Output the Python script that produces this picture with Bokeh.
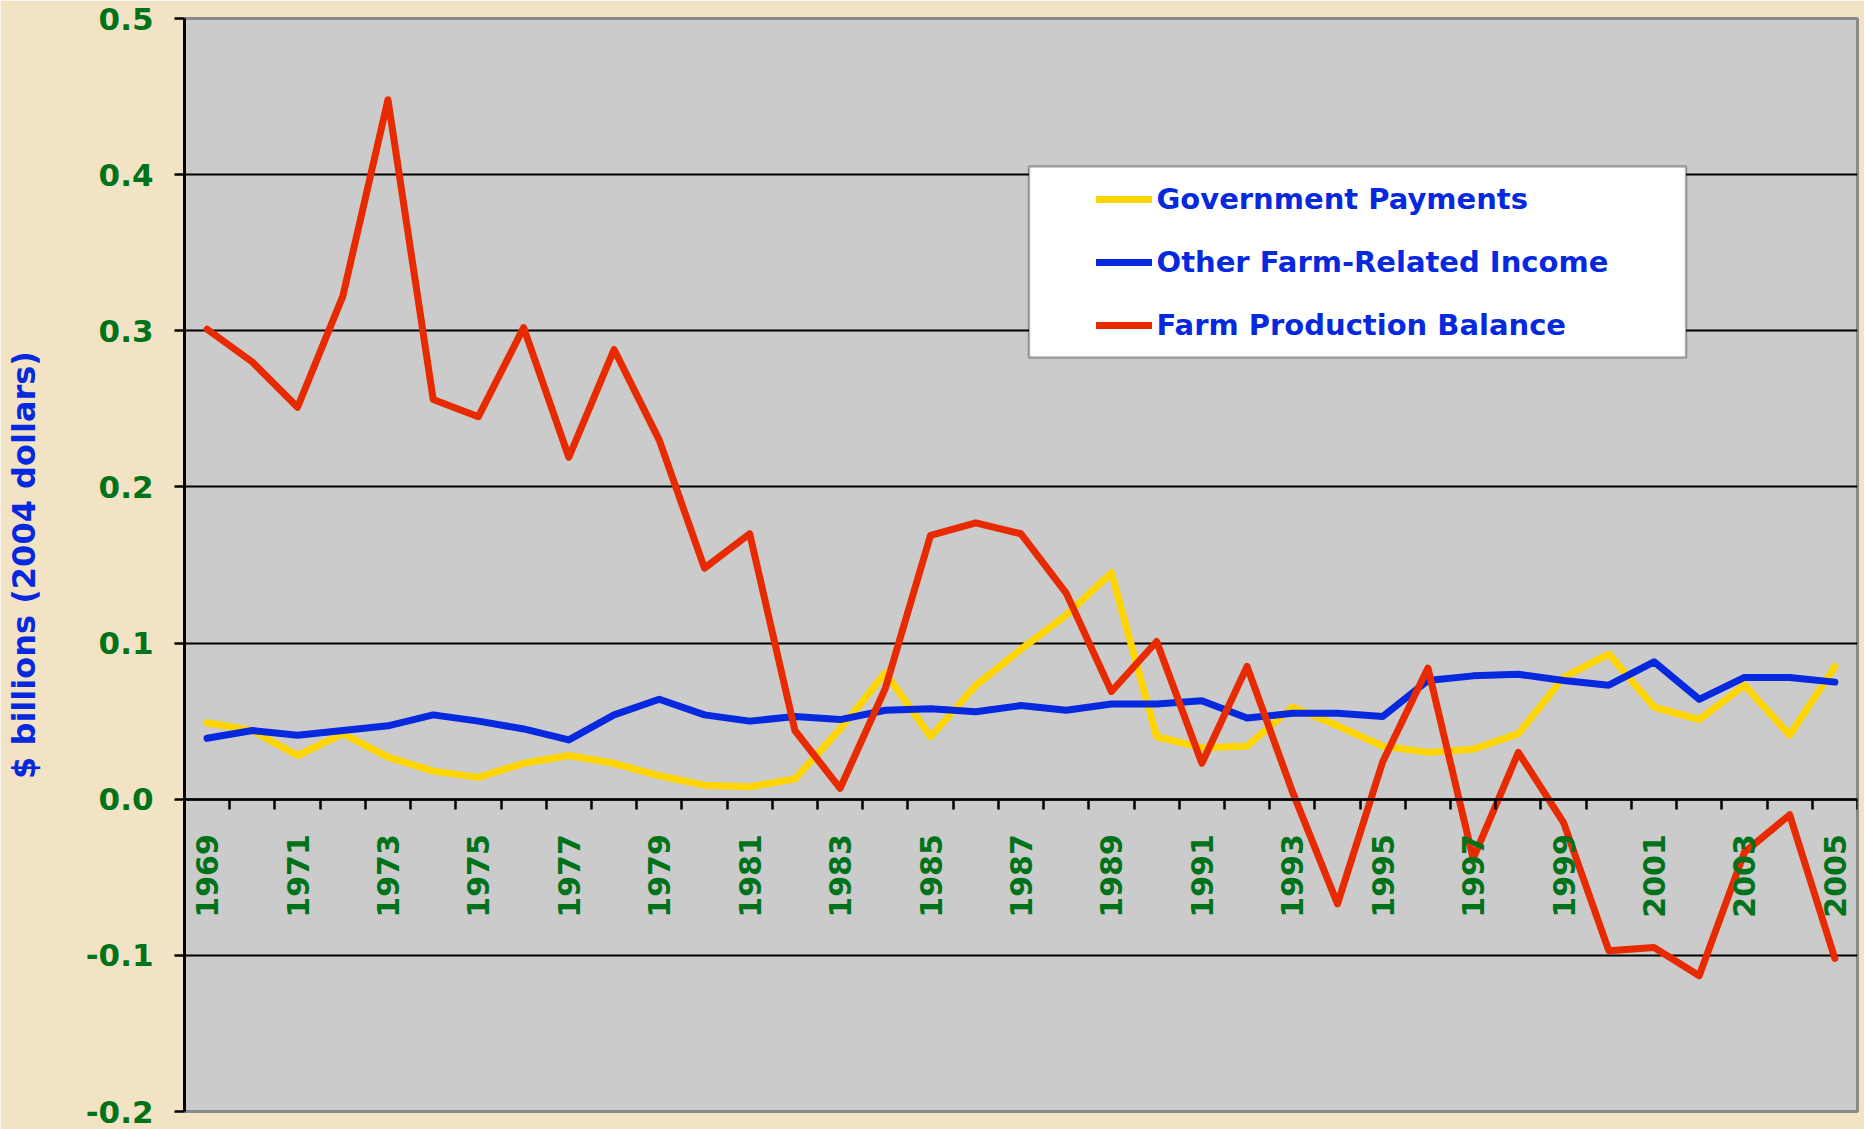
import math
from bokeh.plotting import figure
from bokeh.models import (Range1d, FixedTicker, PrintfTickFormatter, Legend,
                          LegendItem, BoxAnnotation)
from bokeh.embed import file_html
from bokeh.resources import INLINE

# ---------------- data ----------------
years = list(range(1969, 2006))
year_labels = [y for y in years if y % 2 == 1]
gov_payments = [0.049, 0.044, 0.028, 0.042, 0.027, 0.018, 0.014, 0.023, 0.028, 0.023,
                0.015, 0.009, 0.008, 0.013, 0.045, 0.081, 0.040, 0.073, 0.096, 0.118,
                0.145, 0.040, 0.033, 0.034, 0.059, 0.047, 0.034, 0.030, 0.032, 0.042,
                0.078, 0.093, 0.059, 0.051, 0.073, 0.041, 0.085]
other_income = [0.039, 0.044, 0.041, 0.044, 0.047, 0.054, 0.050, 0.045, 0.038, 0.054,
                0.064, 0.054, 0.050, 0.053, 0.051, 0.057, 0.058, 0.056, 0.060, 0.057,
                0.061, 0.061, 0.063, 0.052, 0.055, 0.055, 0.053, 0.076, 0.079, 0.080,
                0.076, 0.073, 0.088, 0.064, 0.078, 0.078, 0.075]
farm_balance = [0.301, 0.280, 0.251, 0.322, 0.448, 0.256, 0.245, 0.302, 0.219, 0.288,
                0.230, 0.148, 0.170, 0.044, 0.007, 0.071, 0.169, 0.177, 0.170, 0.132,
                0.069, 0.101, 0.023, 0.085, 0.005, -0.067, 0.024, 0.084, -0.038, 0.030,
                -0.015, -0.097, -0.095, -0.113, -0.034, -0.010, -0.102]
y_ticks = [-0.2, -0.1, 0.0, 0.1, 0.2, 0.3, 0.4, 0.5]
series_names = ["Government Payments", "Other Farm-Related Income", "Farm Production Balance"]
y_title = "$ billions (2004 dollars)"

# ---------------- style ----------------
FONT = "DejaVu Sans"
GREEN = "#00731A"
TEXT_BLUE = "#0628DE"
COLORS = ["#FFD500", "#0628DE", "#E82A00"]

p = figure(width=1864, height=1129,
           x_range=Range1d(years[0] - 0.5, years[-1] + 0.5),
           y_range=Range1d(y_ticks[0], y_ticks[-1]),
           output_backend="svg", toolbar_location=None,
           min_border_left=184, min_border_right=7,
           min_border_top=18, min_border_bottom=18)
p.background_fill_color = "#CBCBCB"
p.border_fill_color = "#F2E3C4"
p.outline_line_color = "#8A8A8A"
p.outline_line_width = 3

p.xgrid.visible = False
p.ygrid.ticker = FixedTicker(ticks=y_ticks[1:-1])
p.ygrid.grid_line_color = "black"
p.ygrid.grid_line_width = 2

# y axis
ya = p.yaxis[0]
ya.ticker = FixedTicker(ticks=y_ticks)
ya.formatter = PrintfTickFormatter(format="%.1f")
ya.major_label_text_font = FONT
ya.major_label_text_font_style = "bold"
ya.major_label_text_font_size = "31px"
ya.major_label_text_color = GREEN
ya.major_label_standoff = 21
ya.major_tick_out = 10
ya.major_tick_in = 0
ya.minor_tick_out = 0
ya.minor_tick_in = 0
ya.major_tick_line_width = 2.5
ya.major_tick_line_color = "black"
ya.axis_line_width = 3
ya.axis_line_color = "black"
ya.axis_label = y_title
ya.axis_label_text_font = FONT
ya.axis_label_text_font_style = "bold"
ya.axis_label_text_font_size = "32px"
ya.axis_label_text_color = TEXT_BLUE
ya.axis_label_standoff = 40

# x axis at y = 0
xa = p.xaxis[0]
xa.fixed_location = 0
xa.ticker = FixedTicker(ticks=year_labels,
                        minor_ticks=[years[0] - 0.5] + [y + 0.5 for y in years])
xa.formatter = PrintfTickFormatter(format="%d")
xa.major_label_orientation = math.pi / 2
xa.major_label_text_font = FONT
xa.major_label_text_font_style = "bold"
xa.major_label_text_font_size = "30px"
xa.major_label_text_color = GREEN
xa.major_label_standoff = 25
xa.major_tick_out = 0
xa.major_tick_in = 0
xa.minor_tick_out = 10
xa.minor_tick_in = 0
xa.minor_tick_line_width = 2.5
xa.minor_tick_line_color = "black"
xa.axis_line_width = 2.5
xa.axis_line_color = "black"

# lines
renderers = []
for vals, col in zip([gov_payments, other_income, farm_balance], COLORS):
    r = p.line(years, vals, line_color=col, line_width=7,
               line_join="round", line_cap="round")
    renderers.append(r)

# legend box
box = BoxAnnotation(left=844.5, right=1501.5, bottom=754, top=945,
                    left_units="screen", right_units="screen",
                    bottom_units="screen", top_units="screen",
                    fill_color="white", fill_alpha=1.0,
                    line_color="black", line_width=2.5)
p.add_layout(box)

legend = Legend(items=[LegendItem(label=n, renderers=[r]) for n, r in zip(series_names, renderers)],
                location=(911.5, 766), padding=0, margin=0,
                spacing=23, glyph_width=56, glyph_height=40, label_height=40,
                label_standoff=5,
                label_text_font=FONT, label_text_font_style="bold",
                label_text_font_size="29px", label_text_color=TEXT_BLUE,
                border_line_alpha=0, background_fill_alpha=0)
p.add_layout(legend)

open("out.html", "w").write(file_html(p, INLINE))
